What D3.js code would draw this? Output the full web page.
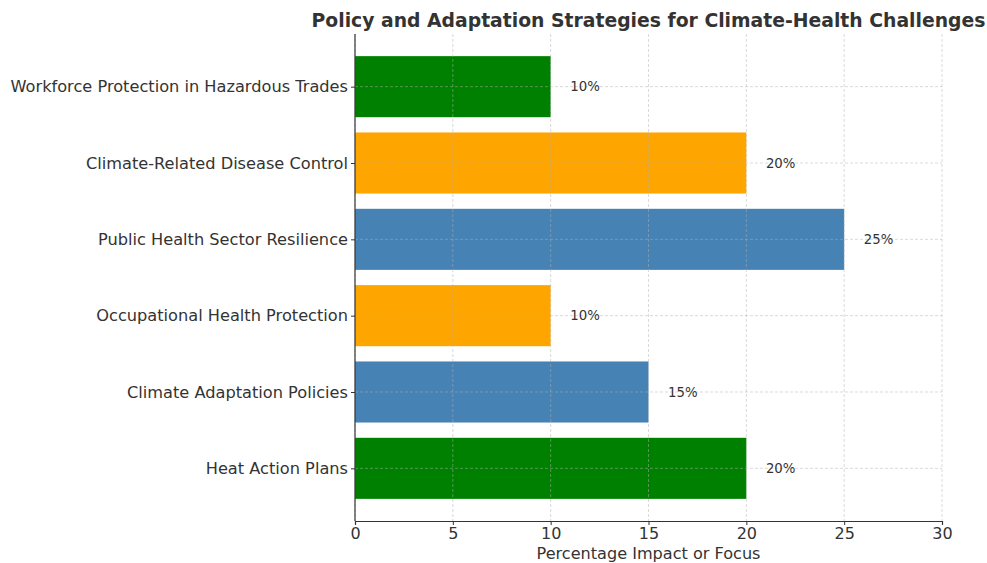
<!DOCTYPE html>
<html>
<head>
<meta charset="utf-8">
<script src="https://cdnjs.cloudflare.com/ajax/libs/d3/7.8.5/d3.min.js"></script>
<style>
  html, body { margin: 0; padding: 0; background: #fff; }
  svg { display: block; font-family: "DejaVu Sans", sans-serif; }
</style>
</head>
<body>
<svg id="chart" width="987" height="563"></svg>
<script>
// Strategies, listed bottom to top
const categories = [
  "Heat Action Plans",
  "Climate Adaptation Policies",
  "Occupational Health Protection",
  "Public Health Sector Resilience",
  "Climate-Related Disease Control",
  "Workforce Protection in Hazardous Trades"
];
const values = [20, 15, 10, 25, 20, 10];
const barColors = ["#008000", "#4682B4", "#FFA500", "#4682B4", "#FFA500", "#008000"];
const xTicks = [0, 5, 10, 15, 20, 25, 30];

const title = "Policy and Adaptation Strategies for Climate-Health Challenges";
const xLabel = "Percentage Impact or Focus";

const svg = d3.select("#chart");
const margin = { left: 355, right: 45, top: 34, bottom: 42 };
const W = 987, H = 563;
const textColor = "#333";

const x = d3.scaleLinear().domain([0, 30]).range([margin.left, W - margin.right]);
// category index axis with bar height 0.8 and 5% margins
const barH = 0.8;
const yLo = -barH / 2, yHi = categories.length - 1 + barH / 2;
const pad = (yHi - yLo) * 0.05;
const y = d3.scaleLinear().domain([yLo - pad, yHi + pad]).range([H - margin.bottom, margin.top]);
const unit = Math.abs(y(1) - y(0));

// bars
svg.append("g").selectAll("rect")
  .data(values)
  .join("rect")
  .attr("x", x(0))
  .attr("y", (d, i) => y(i + barH / 2))
  .attr("width", d => x(d) - x(0))
  .attr("height", barH * unit)
  .attr("fill", (d, i) => barColors[i]);

// dashed grid drawn above bars
const grid = svg.append("g").attr("stroke", "#b0b0b0").attr("stroke-opacity", 0.6)
  .attr("stroke-dasharray", "3,2").attr("stroke-width", 0.8);
grid.selectAll("line.v").data(xTicks).join("line")
  .attr("class", "v")
  .attr("x1", d => x(d)).attr("x2", d => x(d))
  .attr("y1", y.range()[1]).attr("y2", y.range()[0]);
grid.selectAll("line.h").data(categories).join("line")
  .attr("class", "h")
  .attr("x1", x.range()[0]).attr("x2", x.range()[1])
  .attr("y1", (d, i) => y(i)).attr("y2", (d, i) => y(i));

// value labels
svg.append("g").selectAll("text")
  .data(values)
  .join("text")
  .attr("x", d => x(d + 1))
  .attr("y", (d, i) => y(i))
  .attr("dy", "0.35em")
  .attr("font-size", 13.3)
  .attr("fill", textColor)
  .text(d => d + "%");

// x axis
const xAxis = svg.append("g")
  .attr("transform", `translate(0,${H - margin.bottom})`)
  .call(d3.axisBottom(x).tickValues(xTicks).tickSize(4).tickPadding(3).tickFormat(d3.format("d")));
xAxis.select(".domain").attr("stroke", "#333").attr("stroke-width", 1.2);
xAxis.selectAll(".tick line").attr("stroke", "#333");
xAxis.selectAll("text").attr("font-size", 16).attr("fill", textColor)
  .attr("font-family", "DejaVu Sans, sans-serif");

// y axis
const yAxis = svg.append("g")
  .attr("transform", `translate(${margin.left},0)`)
  .call(d3.axisLeft(y).tickValues(d3.range(categories.length)).tickSize(4).tickPadding(3)
    .tickFormat(i => categories[i]));
yAxis.select(".domain").attr("stroke", "#333").attr("stroke-width", 1.2)
  .attr("d", `M0,${y.range()[0]}V${y.range()[1]}`);
yAxis.selectAll(".tick line").attr("stroke", "#333");
yAxis.selectAll("text").attr("font-size", 16.2).attr("fill", textColor)
  .attr("font-family", "DejaVu Sans, sans-serif");

// axis title
svg.append("text")
  .attr("x", (x.range()[0] + x.range()[1]) / 2)
  .attr("y", 559)
  .attr("text-anchor", "middle")
  .attr("font-size", 16.1)
  .attr("fill", textColor)
  .text(xLabel);

// chart title
svg.append("text")
  .attr("x", (x.range()[0] + x.range()[1]) / 2)
  .attr("y", 27)
  .attr("text-anchor", "middle")
  .attr("font-size", 18.8)
  .attr("font-weight", "bold")
  .attr("fill", textColor)
  .text(title);
</script>
</body>
</html>
